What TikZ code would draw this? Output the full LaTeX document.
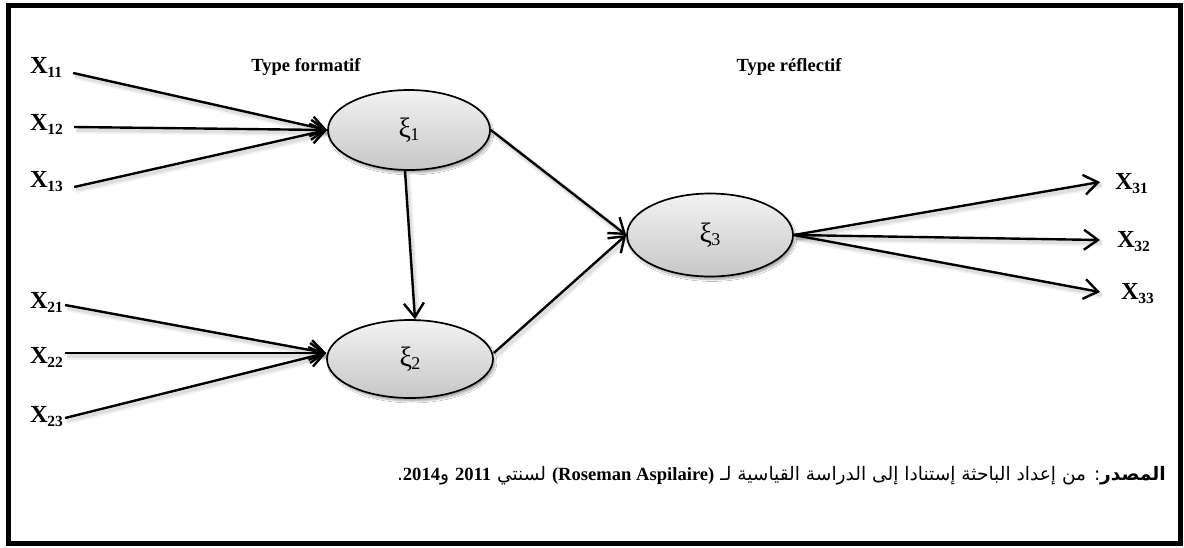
\documentclass[tikz,border=0pt]{standalone}
\usepackage{fontspec}
\setmainfont{Liberation Serif}
\newfontfamily\latinfont{Liberation Serif}
\newfontfamily\arabicfont[Script=Arabic]{DejaVu Sans}
\TeXXeTstate=1
\usetikzlibrary{arrows.meta,shapes.geometric,shadows.blur,calc}

% indicator label: bold X with a lowered two-digit index
\newcommand\xlab[1]{X\kern-0.5pt\raisebox{-4pt}{\fontsize{15.5}{15.5}\selectfont\bfseries #1}}
% latent variable label: xi with a lowered index
\newcommand\xilab[1]{ξ\kern-0.5pt\raisebox{-3pt}{\fontsize{18}{18}\selectfont #1}}

\begin{document}
\begin{tikzpicture}[x=1pt,y=-1pt,
  latent/.style={ellipse, draw, line width=1.7pt, inner sep=0pt,
    top color=black!5, bottom color=black!22,
    font=\fontsize{28}{28}\selectfont,
    blur shadow={shadow xshift=2pt, shadow yshift=-3pt, shadow blur steps=8, shadow opacity=35}},
  indic/.style={font=\fontsize{24.5}{26}\selectfont\bfseries, inner sep=0pt},
  typelab/.style={font=\fontsize{18.5}{20}\selectfont\bfseries, inner sep=0pt},
  arr/.style={line width=2.4pt, -{Straight Barb[length=14pt,width=20pt]},
    preaction={draw=black, -, line width=7pt, opacity=0.05,
      transform canvas={xshift=2pt,yshift=-3pt}},
    preaction={draw=black, -, line width=3.5pt, opacity=0.08,
      transform canvas={xshift=2pt,yshift=-3pt}}},
  ]
  % page and frame
  \fill[white] (0,0) rectangle (1184,547);
  \useasboundingbox (0,0) rectangle (1184,547);
  \draw[line width=5pt] (8,5.5) rectangle (1180.5,543);

  % headings
  \node[typelab, anchor=base] (tf) at (306,71) {Type formatif};
  \node[typelab, anchor=base] (tr) at (789,71) {Type réflectif};

  % latent variables
  \node[latent, minimum width=162pt, minimum height=80pt] (xi1) at (409,130) {\xilab{1}};
  \node[latent, minimum width=166pt, minimum height=78pt] (xi2) at (410,359) {\xilab{2}};
  \node[latent, minimum width=166pt, minimum height=83pt] (xi3) at (710,235) {\xilab{3}};

  % formative indicators
  \node[indic, anchor=base west] (x11) at (30,73)  {\xlab{11}};
  \node[indic, anchor=base west] (x12) at (30,130) {\xlab{12}};
  \node[indic, anchor=base west] (x13) at (30,187) {\xlab{13}};
  \node[indic, anchor=base west] (x21) at (30,308) {\xlab{21}};
  \node[indic, anchor=base west] (x22) at (30,363) {\xlab{22}};
  \node[indic, anchor=base west] (x23) at (30,422) {\xlab{23}};

  % reflective indicators
  \node[indic, anchor=base west] (x31) at (1115,189) {\xlab{31}};
  \node[indic, anchor=base west] (x32) at (1117,247) {\xlab{32}};
  \node[indic, anchor=base west] (x33) at (1121,299) {\xlab{33}};

  % formative paths
  \draw[arr] ($(x11.base east)+(11,0)$)  -- (xi1.west);
  \draw[arr] ($(x12.base east)+(11,-3)$) -- (xi1.west);
  \draw[arr] ($(x13.base east)+(11,0)$)  -- (xi1.west);
  \draw[arr] ($(x21.base east)+(2,-3)$)  -- ($(xi2.west)+(0,-6)$);
  \draw[arr] ($(x22.base east)+(2,-10)$) -- ($(xi2.west)+(0,-6)$);
  \draw[arr] ($(x23.base east)+(2,-4)$)  -- ($(xi2.west)+(0,-6)$);

  % structural paths
  \draw[arr] ($(xi1.south)+(-4,0)$) -- ($(xi2.north)+(5,0)$);
  \draw[arr] (xi1.east) -- (xi3.west);
  \draw[arr] ($(xi2.east)+(0,-6)$) -- (xi3.west);

  % reflective paths
  \draw[arr] (xi3.east) -- ($(x31.base west)+(-15,-7)$);
  \draw[arr] (xi3.east) -- ($(x32.base west)+(-17,-7)$);
  \draw[arr] (xi3.east) -- ($(x33.base west)+(-21,-7)$);

  % source note
  \node[anchor=base east, inner sep=0pt, font=\arabicfont\fontsize{18.6}{20}\selectfont] (src) at (1166,480)
    {\beginR\textbf{المصدر}: من إعداد الباحثة إستنادا إلى الدراسة القياسية لـ \beginL{\latinfont\bfseries(Roseman Aspilaire)}\endL{} لسنتي \beginL{\latinfont\bfseries 2011}\endL{} و\beginL{\latinfont\bfseries 2014}\endL.\endR};
\end{tikzpicture}
\end{document}
